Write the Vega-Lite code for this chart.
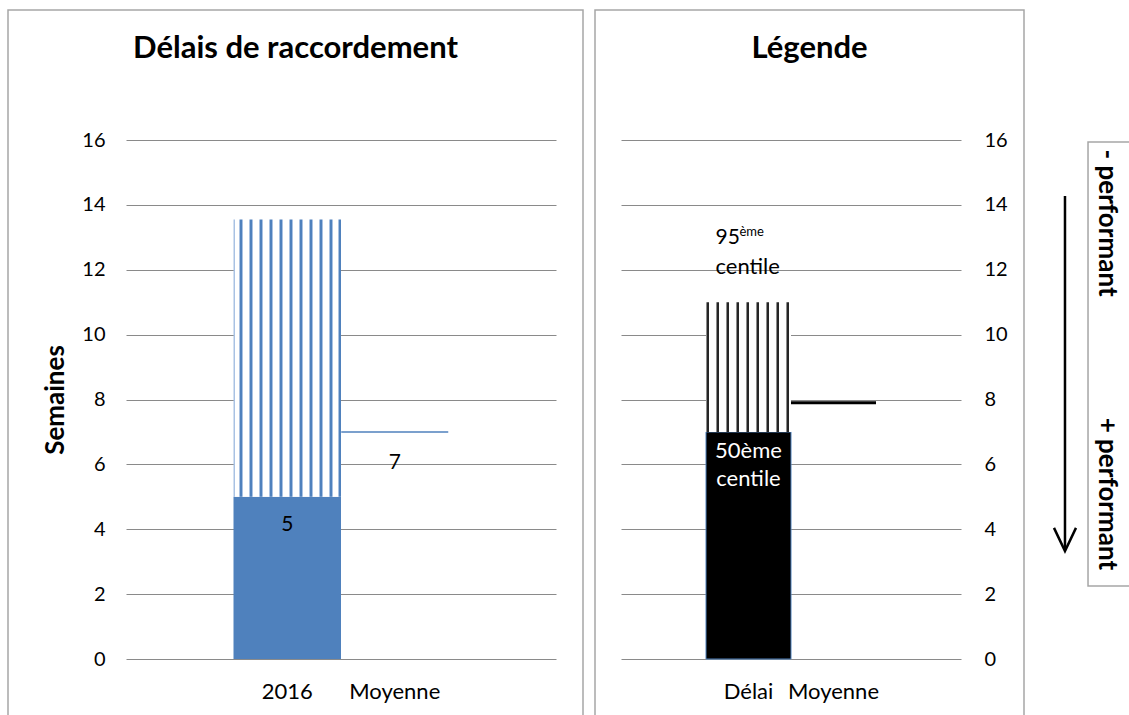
{
  "$schema": "https://vega.github.io/schema/vega-lite/v6.json",
  "padding": {"left": 7, "top": 9, "right": 0, "bottom": 0},
  "background": "white",
  "spacing": 10,
  "config": {
    "font": "Lato",
    "view": {"stroke": "#a6a6a6", "strokeWidth": 1.5},
    "axis": {"labelFont": "Lato", "labelFontSize": 20, "labelColor": "#000000", "ticks": false, "domain": false, "gridColor": "#8a8a8a", "gridWidth": 1, "titleFont": "Lato", "titleColor": "#000000", "labelOverlap": false},
    "title": {"font": "Lato", "fontSize": 31, "fontWeight": "bold", "color": "#000000", "anchor": "middle", "frame": "group"},
    "text": {"font": "Lato", "fontSize": 21, "color": "#000000"}
  },
  "datasets": {
    "lp50": [{"cat": "2016", "value": 5}],
    "lp95": [{"cat": "2016", "p50": 5, "value": 13.55}],
    "lmoy": [{"cat": "Moyenne", "value": 7}],
    "rp50": [{"cat": "Délai", "value": 7}],
    "rp95": [{"cat": "Délai", "p50": 7, "value": 11}],
    "rmoy": [{"cat": "Moyenne", "value": 7.9}]
  },
  "hconcat": [
    {
      "width": 575,
      "height": 710,
      "title": {"text": "Délais de raccordement", "offset": -48, "dy": 31, "baseline": "alphabetic"},
      "encoding": {
        "x": {"field": "cat", "type": "nominal", "sort": null,
          "scale": {"domain": ["2016", "Moyenne"], "range": [118, 548], "paddingInner": 0, "paddingOuter": 1},
          "axis": {"title": null, "labelAngle": 0, "labelFontSize": 22, "offset": -61, "labelPadding": 22, "grid": false}},
        "y": {"field": "value", "type": "quantitative",
          "scale": {"domain": [0, 16], "range": [649, 130], "nice": false, "zero": true},
          "axis": {"title": "Semaines", "titleFontSize": 26, "titleFontWeight": "bold", "titlePadding": 13, "values": [0, 2, 4, 6, 8, 10, 12, 14, 16], "offset": -118, "labelPadding": 21, "grid": true}}
      },
      "layer": [
        {"data": {"name": "lp50"}, "mark": {"type": "bar", "color": "#4f81bd"}},
        {"data": {"name": "lp95"},
          "mark": {"type": "bar", "fill": {"gradient": "linear", "x1": 0, "y1": 0, "x2": 1, "y2": 0, "stops": [
            {"offset": 0, "color": "#a9c2e3"}, {"offset": 0.014, "color": "#a9c2e3"}, {"offset": 0.014, "color": "#ffffff"},
            {"offset": 0.0493, "color": "#ffffff"}, {"offset": 0.0493, "color": "#a9c2e3"}, {"offset": 0.0586, "color": "#a9c2e3"}, {"offset": 0.0586, "color": "#4f81bd"}, {"offset": 0.0772, "color": "#4f81bd"}, {"offset": 0.0772, "color": "#a9c2e3"}, {"offset": 0.0865, "color": "#a9c2e3"}, {"offset": 0.0865, "color": "#ffffff"},
            {"offset": 0.1423, "color": "#ffffff"}, {"offset": 0.1423, "color": "#a9c2e3"}, {"offset": 0.1516, "color": "#a9c2e3"}, {"offset": 0.1516, "color": "#4f81bd"}, {"offset": 0.1702, "color": "#4f81bd"}, {"offset": 0.1702, "color": "#a9c2e3"}, {"offset": 0.1795, "color": "#a9c2e3"}, {"offset": 0.1795, "color": "#ffffff"},
            {"offset": 0.2353, "color": "#ffffff"}, {"offset": 0.2353, "color": "#a9c2e3"}, {"offset": 0.2447, "color": "#a9c2e3"}, {"offset": 0.2447, "color": "#4f81bd"}, {"offset": 0.2633, "color": "#4f81bd"}, {"offset": 0.2633, "color": "#a9c2e3"}, {"offset": 0.2726, "color": "#a9c2e3"}, {"offset": 0.2726, "color": "#ffffff"},
            {"offset": 0.3284, "color": "#ffffff"}, {"offset": 0.3284, "color": "#a9c2e3"}, {"offset": 0.3377, "color": "#a9c2e3"}, {"offset": 0.3377, "color": "#4f81bd"}, {"offset": 0.3563, "color": "#4f81bd"}, {"offset": 0.3563, "color": "#a9c2e3"}, {"offset": 0.3656, "color": "#a9c2e3"}, {"offset": 0.3656, "color": "#ffffff"},
            {"offset": 0.4214, "color": "#ffffff"}, {"offset": 0.4214, "color": "#a9c2e3"}, {"offset": 0.4307, "color": "#a9c2e3"}, {"offset": 0.4307, "color": "#4f81bd"}, {"offset": 0.4493, "color": "#4f81bd"}, {"offset": 0.4493, "color": "#a9c2e3"}, {"offset": 0.4586, "color": "#a9c2e3"}, {"offset": 0.4586, "color": "#ffffff"},
            {"offset": 0.5144, "color": "#ffffff"}, {"offset": 0.5144, "color": "#a9c2e3"}, {"offset": 0.5237, "color": "#a9c2e3"}, {"offset": 0.5237, "color": "#4f81bd"}, {"offset": 0.5423, "color": "#4f81bd"}, {"offset": 0.5423, "color": "#a9c2e3"}, {"offset": 0.5516, "color": "#a9c2e3"}, {"offset": 0.5516, "color": "#ffffff"},
            {"offset": 0.6074, "color": "#ffffff"}, {"offset": 0.6074, "color": "#a9c2e3"}, {"offset": 0.6167, "color": "#a9c2e3"}, {"offset": 0.6167, "color": "#4f81bd"}, {"offset": 0.6353, "color": "#4f81bd"}, {"offset": 0.6353, "color": "#a9c2e3"}, {"offset": 0.6447, "color": "#a9c2e3"}, {"offset": 0.6447, "color": "#ffffff"},
            {"offset": 0.7005, "color": "#ffffff"}, {"offset": 0.7005, "color": "#a9c2e3"}, {"offset": 0.7098, "color": "#a9c2e3"}, {"offset": 0.7098, "color": "#4f81bd"}, {"offset": 0.7284, "color": "#4f81bd"}, {"offset": 0.7284, "color": "#a9c2e3"}, {"offset": 0.7377, "color": "#a9c2e3"}, {"offset": 0.7377, "color": "#ffffff"},
            {"offset": 0.7935, "color": "#ffffff"}, {"offset": 0.7935, "color": "#a9c2e3"}, {"offset": 0.8028, "color": "#a9c2e3"}, {"offset": 0.8028, "color": "#4f81bd"}, {"offset": 0.8214, "color": "#4f81bd"}, {"offset": 0.8214, "color": "#a9c2e3"}, {"offset": 0.8307, "color": "#a9c2e3"}, {"offset": 0.8307, "color": "#ffffff"},
            {"offset": 0.8865, "color": "#ffffff"}, {"offset": 0.8865, "color": "#a9c2e3"}, {"offset": 0.8958, "color": "#a9c2e3"}, {"offset": 0.8958, "color": "#4f81bd"}, {"offset": 0.9144, "color": "#4f81bd"}, {"offset": 0.9144, "color": "#a9c2e3"}, {"offset": 0.9237, "color": "#a9c2e3"}, {"offset": 0.9237, "color": "#ffffff"},
            {"offset": 0.972, "color": "#ffffff"}, {"offset": 0.972, "color": "#a9c2e3"}, {"offset": 0.982, "color": "#a9c2e3"}, {"offset": 0.982, "color": "#4f81bd"}, {"offset": 1, "color": "#4f81bd"}
          ]}},
          "encoding": {"y2": {"field": "p50"}}},
        {"data": {"name": "lmoy"}, "mark": {"type": "tick", "color": "#4f81bd", "size": 107, "thickness": 1.5, "opacity": 1}},
        {"data": {"name": "lp50"}, "mark": {"type": "text", "dy": 28, "baseline": "middle"}, "encoding": {"text": {"field": "value", "type": "quantitative"}}},
        {"data": {"name": "lmoy"}, "mark": {"type": "text", "dy": 31, "baseline": "middle"}, "encoding": {"text": {"field": "value", "type": "quantitative"}}}
      ]
    },
    {
      "width": 429,
      "height": 710,
      "title": {"text": "Légende", "offset": -48, "dy": 31, "baseline": "alphabetic"},
      "encoding": {
        "x": {"field": "cat", "type": "nominal", "sort": null,
          "scale": {"domain": ["Délai", "Moyenne"], "range": [26, 366], "paddingInner": 0, "paddingOuter": 1},
          "axis": {"title": null, "labelAngle": 0, "labelFontSize": 22, "offset": -61, "labelPadding": 22, "grid": false}},
        "y": {"field": "value", "type": "quantitative",
          "scale": {"domain": [0, 16], "range": [649, 130], "nice": false, "zero": true},
          "axis": {"title": null, "orient": "left", "values": [0, 2, 4, 6, 8, 10, 12, 14, 16], "offset": -366, "labelPadding": -23, "labelAlign": "left", "grid": true}}
      },
      "layer": [
        {"data": {"name": "rp50"}, "mark": {"type": "bar", "color": "#000000", "stroke": "#4f81bd", "strokeWidth": 1}},
        {"data": {"name": "rp95"},
          "mark": {"type": "bar", "fill": {"gradient": "linear", "x1": 0, "y1": 0, "x2": 1, "y2": 0, "stops": [
            {"offset": 0, "color": "#ffffff"},
            {"offset": 0.0012, "color": "#ffffff"}, {"offset": 0.0012, "color": "#8c8c8c"}, {"offset": 0.0094, "color": "#8c8c8c"}, {"offset": 0.0094, "color": "#262626"}, {"offset": 0.0306, "color": "#262626"}, {"offset": 0.0306, "color": "#8c8c8c"}, {"offset": 0.0388, "color": "#8c8c8c"}, {"offset": 0.0388, "color": "#ffffff"},
            {"offset": 0.1188, "color": "#ffffff"}, {"offset": 0.1188, "color": "#8c8c8c"}, {"offset": 0.1271, "color": "#8c8c8c"}, {"offset": 0.1271, "color": "#262626"}, {"offset": 0.1482, "color": "#262626"}, {"offset": 0.1482, "color": "#8c8c8c"}, {"offset": 0.1565, "color": "#8c8c8c"}, {"offset": 0.1565, "color": "#ffffff"},
            {"offset": 0.2365, "color": "#ffffff"}, {"offset": 0.2365, "color": "#8c8c8c"}, {"offset": 0.2447, "color": "#8c8c8c"}, {"offset": 0.2447, "color": "#262626"}, {"offset": 0.2659, "color": "#262626"}, {"offset": 0.2659, "color": "#8c8c8c"}, {"offset": 0.2741, "color": "#8c8c8c"}, {"offset": 0.2741, "color": "#ffffff"},
            {"offset": 0.3541, "color": "#ffffff"}, {"offset": 0.3541, "color": "#8c8c8c"}, {"offset": 0.3624, "color": "#8c8c8c"}, {"offset": 0.3624, "color": "#262626"}, {"offset": 0.3835, "color": "#262626"}, {"offset": 0.3835, "color": "#8c8c8c"}, {"offset": 0.3918, "color": "#8c8c8c"}, {"offset": 0.3918, "color": "#ffffff"},
            {"offset": 0.4718, "color": "#ffffff"}, {"offset": 0.4718, "color": "#8c8c8c"}, {"offset": 0.48, "color": "#8c8c8c"}, {"offset": 0.48, "color": "#262626"}, {"offset": 0.5012, "color": "#262626"}, {"offset": 0.5012, "color": "#8c8c8c"}, {"offset": 0.5094, "color": "#8c8c8c"}, {"offset": 0.5094, "color": "#ffffff"},
            {"offset": 0.5894, "color": "#ffffff"}, {"offset": 0.5894, "color": "#8c8c8c"}, {"offset": 0.5976, "color": "#8c8c8c"}, {"offset": 0.5976, "color": "#262626"}, {"offset": 0.6188, "color": "#262626"}, {"offset": 0.6188, "color": "#8c8c8c"}, {"offset": 0.6271, "color": "#8c8c8c"}, {"offset": 0.6271, "color": "#ffffff"},
            {"offset": 0.7071, "color": "#ffffff"}, {"offset": 0.7071, "color": "#8c8c8c"}, {"offset": 0.7153, "color": "#8c8c8c"}, {"offset": 0.7153, "color": "#262626"}, {"offset": 0.7365, "color": "#262626"}, {"offset": 0.7365, "color": "#8c8c8c"}, {"offset": 0.7447, "color": "#8c8c8c"}, {"offset": 0.7447, "color": "#ffffff"},
            {"offset": 0.8247, "color": "#ffffff"}, {"offset": 0.8247, "color": "#8c8c8c"}, {"offset": 0.8329, "color": "#8c8c8c"}, {"offset": 0.8329, "color": "#262626"}, {"offset": 0.8541, "color": "#262626"}, {"offset": 0.8541, "color": "#8c8c8c"}, {"offset": 0.8624, "color": "#8c8c8c"}, {"offset": 0.8624, "color": "#ffffff"},
            {"offset": 0.9424, "color": "#ffffff"}, {"offset": 0.9424, "color": "#8c8c8c"}, {"offset": 0.9506, "color": "#8c8c8c"}, {"offset": 0.9506, "color": "#262626"}, {"offset": 0.9718, "color": "#262626"}, {"offset": 0.9718, "color": "#8c8c8c"}, {"offset": 0.98, "color": "#8c8c8c"}, {"offset": 0.98, "color": "#ffffff"},
            {"offset": 1, "color": "#ffffff"}
          ]}},
          "encoding": {"y2": {"field": "p50"}}},
        {"data": {"name": "rmoy"}, "mark": {"type": "tick", "color": "#000000", "size": 85, "thickness": 3, "opacity": 1}},
        {"data": {"name": "rp95"}, "mark": {"type": "text", "text": "95", "fontSize": 21, "align": "left", "baseline": "middle", "dx": -33, "dy": -64}},
        {"data": {"name": "rp95"}, "mark": {"type": "text", "text": "ème", "fontSize": 13, "align": "left", "baseline": "middle", "dx": -9, "dy": -70}},
        {"data": {"name": "rp95"}, "mark": {"type": "text", "text": "centile", "fontSize": 22, "align": "left", "baseline": "middle", "dx": -33, "dy": -35}},
        {"data": {"name": "rp50"}, "mark": {"type": "text", "text": "50ème", "fontSize": 22, "color": "#ffffff", "align": "center", "baseline": "middle", "dy": 19}},
        {"data": {"name": "rp50"}, "mark": {"type": "text", "text": "centile", "fontSize": 22, "color": "#ffffff", "align": "center", "baseline": "middle", "dy": 47}}
      ]
    },
    {
      "width": 94,
      "height": 710,
      "view": {"stroke": null},
      "data": {"values": [{}]},
      "layer": [
        {"mark": {"type": "rect", "fill": "#ffffff", "stroke": "#a6a6a6", "strokeWidth": 1.5, "clip": false},
          "encoding": {
            "x": {"datum": 0.564, "type": "quantitative", "scale": {"domain": [0, 1], "nice": false, "zero": false}, "axis": null},
            "x2": {"datum": 1.3},
            "y": {"datum": 15.94, "type": "quantitative", "scale": {"domain": [0, 16], "range": [649, 130], "nice": false}, "axis": null},
            "y2": {"datum": 2.25}
          }},
        {"mark": {"type": "rule", "color": "#000000", "strokeWidth": 2.5},
          "encoding": {
            "x": {"datum": 0.319, "type": "quantitative"},
            "y": {"datum": 14.27, "type": "quantitative"},
            "y2": {"datum": 3.4}
          }},
        {"mark": {"type": "point", "shape": "M-1,-2.1L0,0L1,-2.1", "size": 484, "filled": false, "stroke": "#000000", "strokeWidth": 2.5, "opacity": 1},
          "encoding": {
            "x": {"datum": 0.319, "type": "quantitative"},
            "y": {"datum": 3.33, "type": "quantitative"}
          }},
        {"mark": {"type": "text", "text": "- performant", "angle": 90, "fontWeight": "bold", "fontSize": 26, "align": "center", "baseline": "middle"},
          "encoding": {
            "x": {"datum": 0.766, "type": "quantitative"},
            "y": {"datum": 13.44, "type": "quantitative"}
          }},
        {"mark": {"type": "text", "text": "+ performant", "angle": 90, "fontWeight": "bold", "fontSize": 26, "align": "center", "baseline": "middle"},
          "encoding": {
            "x": {"datum": 0.766, "type": "quantitative"},
            "y": {"datum": 5.09, "type": "quantitative"}
          }}
      ]
    }
  ]
}
